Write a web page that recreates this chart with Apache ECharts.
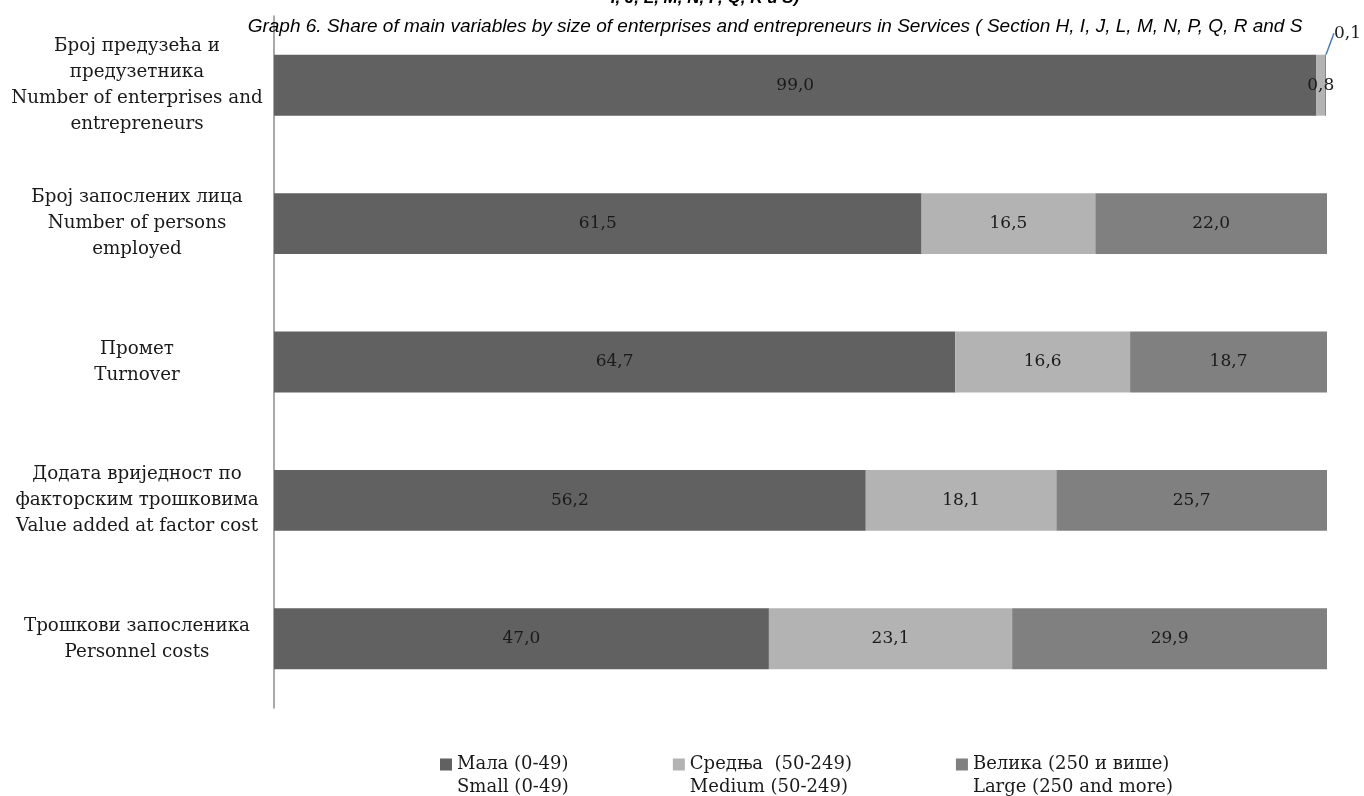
<!DOCTYPE html>
<html><head><meta charset="utf-8">
<script src="https://cdn.jsdelivr.net/npm/echarts@6/dist/echarts.min.js"></script>
<style>html,body{margin:0;padding:0;background:#fff}#c{width:1364px;height:796px}</style>
</head><body><div id="c"></div>
<script>
const categories = [
  'Број предузећа и\nпредузетника\nNumber of enterprises and\nentrepreneurs',
  'Број запослених лица\nNumber of persons\nemployed',
  'Промет\nTurnover',
  'Додата вриједност по\nфакторским трошковима\nValue added at factor cost',
  'Трошкови запосленика\nPersonnel costs'
];
const seriesNames = ['Мала (0-49)\nSmall (0-49)', 'Средња  (50-249)\nMedium (50-249)', 'Велика (250 и више)\nLarge (250 and more)'];
const small = [99.0, 61.5, 64.7, 56.2, 47.0];
const medium = [0.8, 16.5, 16.6, 18.1, 23.1];
const large = [0.1, 22.0, 18.7, 25.7, 29.9];
const colors = ['#616161', '#b3b3b3', '#808080'];
const titleText = 'Graph 6. Share of main variables by size of enterprises and entrepreneurs in Services ( Section H, I, J, L, M, N, P, Q, R and S';
const cutTitle = 'I, J, L, M, N, P, Q, R и S)';

const serif = '"DejaVu Serif", serif';
const fmt = p => p.value.toFixed(1).replace('.', ',');

function mk(i, data) {
  return {
    name: seriesNames[i], type: 'bar', stack: 'a', barWidth: '44%',
    itemStyle: { color: colors[i] },
    label: { show: true, position: 'inside', formatter: fmt, color: '#1a1a1a', fontFamily: serif, fontSize: 17 },
    data: data
  };
}
const s0 = mk(0, small), s1 = mk(1, medium), s2 = mk(2, large);
s2.data = large.map((v, i) => i === 0 ? { value: v, label: { position: 'right', distance: 0 } } : v);
s2.labelLayout = function (params) {
  if (params.dataIndex === 0) return { dx: 8, dy: -52 };
  return {};
};
s2.labelLine = { show: true, lineStyle: { color: '#4a7ebb', width: 1.5 } };

const legendIcon = 'path://M0,5.5L12,5.5L12,17.5L0,17.5Z M0,0L0.01,0 M0,46L0.01,46';

const chart = echarts.init(document.getElementById('c'));
chart.setOption({
  animation: false,
  backgroundColor: '#fff',
  title: [
    { text: cutTitle, left: 700, top: -15, textAlign: 'center',
      textStyle: { fontFamily: '"Liberation Sans Narrow", "Liberation Sans", sans-serif', fontStyle: 'italic', fontWeight: 'bold', fontSize: 17, color: '#000' } },
    { text: titleText, left: 770, top: 12, textAlign: 'center',
      textStyle: { fontFamily: '"Liberation Sans Narrow", "Liberation Sans", sans-serif', fontStyle: 'italic', fontWeight: 'normal', fontSize: 19, color: '#000' } }
  ],
  grid: { left: 274, right: 37, top: 16, bottom: 88, containLabel: false },
  xAxis: { type: 'value', min: 0, max: 100, show: false },
  yAxis: {
    type: 'category', inverse: true, data: categories,
    axisLine: { show: true, lineStyle: { color: '#8c8c8c', width: 1.5 } },
    axisTick: { show: false },
    axisLabel: { align: 'center', margin: 137, fontFamily: serif, fontSize: 18.3, lineHeight: 26, color: '#1a1a1a' }
  },
  legend: {
    top: 748, left: 435, itemWidth: 12, itemHeight: 46, itemGap: 104,
    icon: legendIcon,
    textStyle: { fontFamily: serif, fontSize: 18, lineHeight: 23, color: '#1a1a1a' },
    data: seriesNames
  },
  series: [s0, s1, s2]
});
</script></body></html>
